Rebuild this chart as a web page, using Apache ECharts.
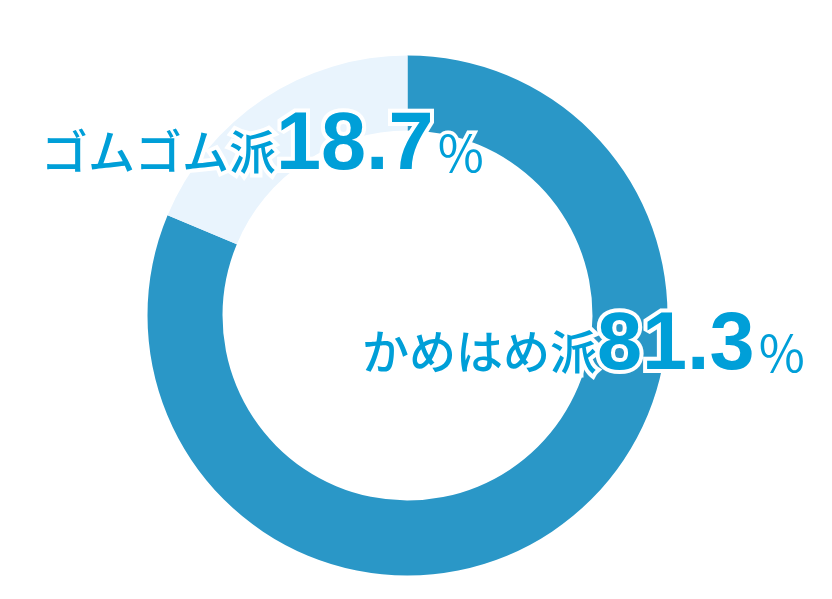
<!DOCTYPE html>
<html><head><meta charset="utf-8">
<script src="https://cdn.jsdelivr.net/npm/echarts@6/dist/echarts.min.js"></script>
<style>html,body{margin:0;padding:0;background:#fff}#c{width:832px;height:599px}</style>
</head><body><div id="c"></div>
<script>
var categories = ['かめはめ派', 'ゴムゴム派'];
var values = [81.3, 18.7];
var sliceColors = ['#2a97c7', '#e9f4fd'];
var labelSpots = [[362, 387], [41, 187]];

var chart = echarts.init(document.getElementById('c'), null, {renderer: 'canvas'});
var textColor = '#009fd8';
chart.setOption({
  animation: false,
  series: [{
    type: 'pie',
    center: [407.5, 315.5],
    radius: [185, 260],
    startAngle: 90,
    clockwise: true,
    silent: true,
    data: categories.map(function (c, i) {
      return {name: c, value: values[i], itemStyle: {color: sliceColors[i]}};
    }),
    labelLine: {show: false},
    label: {
      show: true,
      position: 'inside',
      overflow: 'none',
      formatter: function (p) { return '{a|' + p.name + '}{v|' + p.value.toFixed(1) + '}{p|%}'; },
      textBorderColor: '#fff',
      textBorderWidth: 8,
      rich: {
        a: {fontFamily: '"Noto Sans CJK JP"', fontSize: 47, fontWeight: 500, color: textColor, textBorderColor: '#fff', textBorderWidth: 8, verticalAlign: 'bottom', lineHeight: 47, padding: [0, 0, 12, 0]},
        v: {fontFamily: '"Liberation Sans", Arial', fontSize: 81, fontWeight: 'bold', color: textColor, textBorderColor: '#fff', textBorderWidth: 8, verticalAlign: 'bottom', lineHeight: 81},
        p: {fontFamily: '"Noto Sans CJK JP"', fontSize: 50, fontWeight: 'normal', color: textColor, textBorderColor: '#fff', textBorderWidth: 7, verticalAlign: 'bottom', lineHeight: 50, padding: [0, 0, 9, 4]}
      }
    },
    labelLayout: function (params) {
      var s = labelSpots[params.dataIndex];
      return {x: s[0], y: s[1], align: 'left', verticalAlign: 'bottom'};
    }
  }]
});
</script></body></html>
